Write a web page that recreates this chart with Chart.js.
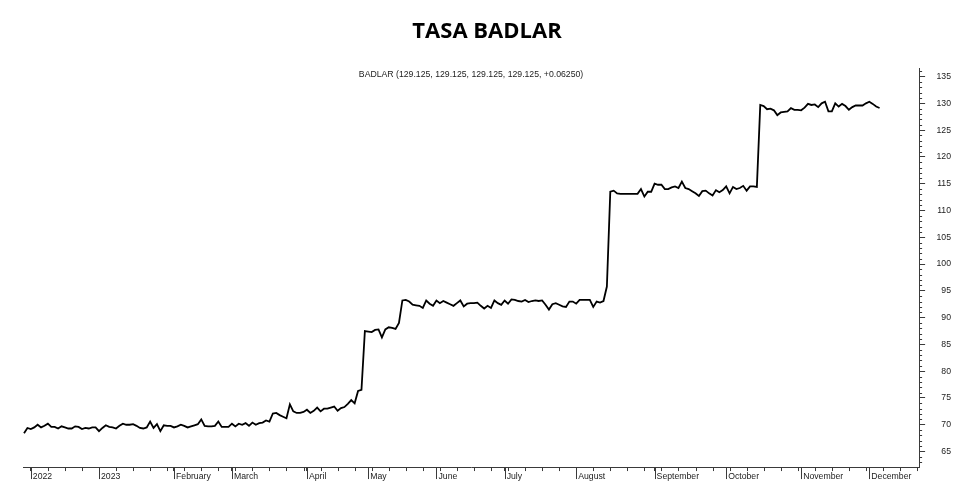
<!DOCTYPE html>
<html>
<head>
<meta charset="utf-8">
<title>Tasa BADLAR</title>
<script src="https://cdn.jsdelivr.net/npm/chart.js@4/dist/chart.umd.min.js"></script>
<style>
  html, body { margin: 0; padding: 0; background: #fff; }
</style>
</head>
<body>
<canvas id="badlarChart" width="980" height="500"></canvas>
<script>
// BADLAR rate, one value per business day (Dec 2022 -> early Dec 2023)
const badlar = [
  // Dec 2022
  68.4, 69.4, 69.2, 69.5, 70.0, 69.5, 69.8, 70.2, 69.6, 69.6, 69.3, 69.7, 69.5, 69.3, 69.3, 69.7,
  69.6, 69.2, 69.4, 69.3, 69.5, 69.5,
  // Jan 2023
  68.8, 69.4, 69.9, 69.6, 69.5, 69.3, 69.8, 70.2, 70.0, 70.0, 70.1, 69.8, 69.4, 69.3, 69.5, 70.6,
  69.4, 70.1, 68.8, 69.9, 69.8, 69.8,
  // Feb
  69.5, 69.7, 70.0, 69.8, 69.5, 69.7, 69.9, 70.1, 71.0, 69.8, 69.7, 69.7, 69.8, 70.6, 69.6, 69.6,
  69.6,
  // Mar
  70.2, 69.7, 70.2, 70.0, 70.3, 69.8, 70.4, 70.0, 70.3, 70.4, 70.8, 70.6, 72.1, 72.2, 71.8, 71.5,
  71.2, 73.8, 72.5, 72.2, 72.2, 72.4,
  // Apr
  72.8, 72.2, 72.6, 73.2, 72.5, 73.0, 73.0, 73.2, 73.4, 72.6, 73.1, 73.3, 73.9, 74.6, 74.0, 76.3,
  76.5, 87.5,
  // May
  87.4, 87.3, 87.7, 87.8, 86.3, 87.8, 88.2, 88.1, 87.9, 89.0, 93.2, 93.3, 93.0, 92.4, 92.3, 92.2,
  91.8, 93.2, 92.6, 92.2,
  // Jun
  93.2, 92.7, 93.1, 92.8, 92.5, 92.2, 92.7, 93.2, 92.1, 92.6, 92.7, 92.7, 92.8, 92.2, 91.7, 92.2,
  91.8, 93.2, 92.7, 92.4,
  // Jul
  93.2, 92.6, 93.4, 93.3, 93.1, 93.0, 93.3, 92.9, 93.1, 93.2, 93.1, 93.2, 92.4, 91.5, 92.5, 92.7,
  92.4, 92.1, 92.0, 93.0, 93.0,
  // Aug
  92.6, 93.3, 93.3, 93.3, 93.3, 92.0, 93.0, 92.8, 93.1, 95.8, 113.5, 113.7, 113.2, 113.1, 113.1, 113.1,
  113.1, 113.1, 113.1, 114.0, 112.6, 113.5, 113.5,
  // Sep
  115.0, 114.8, 114.8, 114.0, 114.0, 114.3, 114.5, 114.2, 115.4, 114.2, 114.0, 113.6, 113.2, 112.7,
  113.6, 113.7, 113.2, 112.8, 113.8, 113.4, 113.8,
  // Oct
  114.5, 113.2, 114.4, 114.0, 114.2, 114.6, 113.7, 114.5, 114.5, 114.4, 129.7, 129.5, 128.9, 129.0,
  128.7, 127.8, 128.3, 128.4, 128.5, 129.1, 128.8, 128.8,
  // Nov
  128.7, 129.2, 129.9, 129.7, 129.8, 129.3, 130.0, 130.3, 128.5, 128.5, 130.0, 129.4, 129.9, 129.5,
  128.8, 129.3, 129.6, 129.6, 129.6, 130.0,
  // Dec
  130.3, 129.9, 129.4, 129.125
];

// x-axis: month labels and the day index where each one starts
const monthLabels = ['2022', '2023', 'February', 'March', 'April', 'May', 'June',
  'July', 'August', 'September', 'October', 'November', 'December'];
const monthStarts = [2, 22, 44, 61, 83, 101, 121, 141, 162, 185, 206, 228, 248];

// y-axis labelled ticks
const yTicks = [65, 70, 75, 80, 85, 90, 95, 100, 105, 110, 115, 120, 125, 130, 135];

const legendText = 'BADLAR (129.125, 129.125, 129.125, 129.125, +0.06250)';

const axisColor = '#3a3a3a';
const labelFont = { family: "'Liberation Sans', Arial, sans-serif", size: 8.7 };

// month bars, small ticks between labelled ones, and the series caption
const axisExtras = {
  id: 'axisExtras',
  afterDraw(chart) {
    const { ctx, chartArea, scales: { x, y } } = chart;
    ctx.save();
    ctx.strokeStyle = axisColor;
    ctx.lineWidth = 1;
    ctx.beginPath();
    // weekly ticks on x
    for (let v = 2; v <= x.max; v += 5) {
      const px = Math.round(x.getPixelForValue(v)) + 0.5;
      ctx.moveTo(px, chartArea.bottom);
      ctx.lineTo(px, chartArea.bottom + 4);
    }
    // long bar in front of each month label
    monthStarts.forEach(v => {
      const px = Math.round(x.getPixelForValue(v)) + 0.5;
      ctx.moveTo(px, chartArea.bottom);
      ctx.lineTo(px, chartArea.bottom + 12);
    });
    // unit ticks on y
    for (let v = Math.ceil(y.min); v <= y.max; v++) {
      if (v % 5 === 0) continue;
      const py = Math.round(y.getPixelForValue(v)) + 0.5;
      ctx.moveTo(chartArea.right, py);
      ctx.lineTo(chartArea.right + 3, py);
    }
    ctx.stroke();

    ctx.fillStyle = '#222';
    ctx.font = "8.7px 'Liberation Sans', Arial, sans-serif";
    ctx.textAlign = 'center';
    ctx.textBaseline = 'middle';
    ctx.fillText(legendText, (chartArea.left + chartArea.right) / 2, chartArea.top + 7);
    ctx.restore();
  }
};

const ctx = document.getElementById('badlarChart').getContext('2d');

const chart = new Chart(ctx, {
  type: 'line',
  data: {
    datasets: [{
      label: 'BADLAR',
      data: badlar.map((v, i) => ({ x: i, y: v })),
      borderColor: '#000',
      borderWidth: 1.8,
      pointRadius: 0,
      tension: 0
    }]
  },
  options: {
    responsive: false,
    animation: false,
    layout: { padding: { left: 23, right: 29, top: 0, bottom: 18.5 } },
    plugins: {
      legend: { display: false },
      tooltip: { enabled: false },
      title: {
        display: true,
        text: 'TASA BADLAR',
        color: '#000',
        font: { family: "'Open Sans', sans-serif", size: 22, weight: 'bold' },
        padding: { top: 19, bottom: 22.6 }
      }
    },
    scales: {
      x: {
        type: 'linear',
        min: -0.3,
        max: 262.6,
        afterBuildTicks: (scale) => { scale.ticks = monthStarts.map(v => ({ value: v })); },
        ticks: {
          callback: (value, index) => monthLabels[index],
          align: 'start',
          labelOffset: 2,
          padding: 0,
          autoSkip: false,
          maxRotation: 0,
          color: '#222',
          font: labelFont
        },
        grid: { drawOnChartArea: false, tickLength: 4, color: axisColor },
        border: { color: axisColor }
      },
      y: {
        position: 'right',
        min: 62.1,
        max: 136.6,
        afterBuildTicks: (scale) => { scale.ticks = yTicks.map(v => ({ value: v })); },
        ticks: {
          crossAlign: 'far',
          padding: 5.7,
          color: '#222',
          font: labelFont
        },
        grid: { drawOnChartArea: false, tickLength: 6, color: axisColor },
        border: { color: axisColor }
      }
    }
  },
  plugins: [axisExtras]
});
</script>
</body>
</html>
